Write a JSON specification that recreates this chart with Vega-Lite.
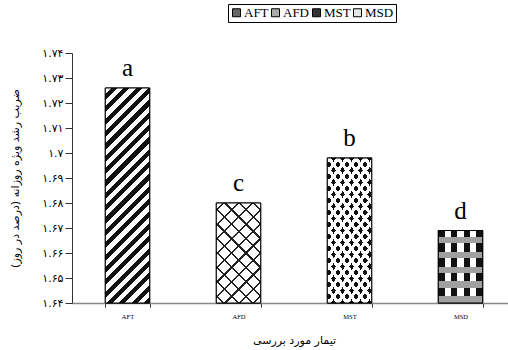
{
  "$schema": "https://vega.github.io/schema/vega-lite/v6.json",
  "width": 436,
  "height": 250,
  "autosize": {"type": "none"},
  "padding": {"left": 72, "top": 53, "right": 0, "bottom": 47},
  "background": "white",
  "config": {"view": {"stroke": null}, "font": "Liberation Serif"},
  "data": {"values": [
    {"t": "AFT", "v": 1.726, "lab": "a"},
    {"t": "AFD", "v": 1.680, "lab": "c"},
    {"t": "MST", "v": 1.698, "lab": "b"},
    {"t": "MSD", "v": 1.669, "lab": "d"}
  ]},
  "encoding": {
    "x": {
      "field": "t", "type": "nominal", "sort": ["AFT", "AFD", "MST", "MSD"],
      "scale": {"range": [0, 444], "paddingInner": 0.6, "paddingOuter": 0.3},
      "title": "تیمار مورد بررسی",
      "axis": {
        "labelFont": "Liberation Serif", "labelFontSize": 6.5, "labelAngle": 0, "labelColor": "black",
        "labelPadding": 6, "tickBand": "extent", "tickSize": 4, "tickColor": "#333",
        "domainColor": "#888", "domainWidth": 1.5, "grid": false,
        "titleFont": "DejaVu Sans", "titleFontSize": 11, "titleFontWeight": "normal", "titleColor": "black",
        "titleY": 37, "titleBaseline": "middle"
      }
    },
    "y": {
      "field": "v", "type": "quantitative",
      "scale": {"domain": [1.64, 1.74], "zero": false, "nice": false, "clamp": true},
      "title": "ضریب رشد ویژه روزانه (درصد در روز)",
      "axis": {
        "values": [1.64, 1.65, 1.66, 1.67, 1.68, 1.69, 1.70, 1.71, 1.72, 1.73, 1.74],
        "labelExpr": "['۱.۶۴','۱.۶۵','۱.۶۶','۱.۶۷','۱.۶۸','۱.۶۹','۱.۷','۱.۷۱','۱.۷۲','۱.۷۳','۱.۷۴'][round((datum.value-1.64)*100)]",
        "labelFont": "DejaVu Sans", "labelFontSize": 11, "labelColor": "black", "labelPadding": 2,
        "tickSize": 7, "tickColor": "#333", "domainColor": "#333", "grid": false,
        "titleFont": "DejaVu Sans", "titleFontSize": 11, "titleFontWeight": "normal", "titleColor": "black",
        "titleX": -57, "titleY": 125, "titleBaseline": "middle", "titleAlign": "center"
      }
    }
  },
  "layer": [
    {
      "mark": {"type": "bar", "stroke": "black", "strokeWidth": 1},
      "encoding": {
        "y2": {"datum": 1.64},
        "fill": {
          "field": "t", "type": "nominal",
          "scale": {"domain": ["AFT", "AFD", "MST", "MSD"], "range": ["#666666", "#aaaaaa", "#333333", "#e6e6e6"]},
          "legend": {
            "orient": "none", "legendX": 156, "legendY": -49, "direction": "horizontal", "columns": 4,
            "title": null, "symbolType": "square", "symbolSize": 64, "symbolStrokeColor": "black",
            "symbolStrokeWidth": 1, "symbolOpacity": 1, "labelFont": "Liberation Serif", "labelFontSize": 13,
            "labelColor": "black", "strokeColor": "black", "padding": 2, "columnPadding": 0, "labelOffset": 1
          }
        }
      }
    },
    {
      "transform": [{"filter": "datum.t === 'AFT'"}],
      "encoding": {"y2": {"datum": 1.64}},
      "mark": {"type": "bar", "fill": {"gradient": "linear", "x1": 0, "y1": 0, "x2": 0.2389, "y2": 1.157, "stops": [
        {"offset": 0, "color": "#fff"}, {"offset": 0.0238, "color": "#fff"}, {"offset": 0.0238, "color": "#111"}, {"offset": 0.0476, "color": "#111"},
        {"offset": 0.0476, "color": "#fff"}, {"offset": 0.0714, "color": "#fff"}, {"offset": 0.0714, "color": "#111"}, {"offset": 0.0952, "color": "#111"},
        {"offset": 0.0952, "color": "#fff"}, {"offset": 0.119, "color": "#fff"}, {"offset": 0.119, "color": "#111"}, {"offset": 0.1429, "color": "#111"},
        {"offset": 0.1429, "color": "#fff"}, {"offset": 0.1667, "color": "#fff"}, {"offset": 0.1667, "color": "#111"}, {"offset": 0.1905, "color": "#111"},
        {"offset": 0.1905, "color": "#fff"}, {"offset": 0.2143, "color": "#fff"}, {"offset": 0.2143, "color": "#111"}, {"offset": 0.2381, "color": "#111"},
        {"offset": 0.2381, "color": "#fff"}, {"offset": 0.2619, "color": "#fff"}, {"offset": 0.2619, "color": "#111"}, {"offset": 0.2857, "color": "#111"},
        {"offset": 0.2857, "color": "#fff"}, {"offset": 0.3095, "color": "#fff"}, {"offset": 0.3095, "color": "#111"}, {"offset": 0.3333, "color": "#111"},
        {"offset": 0.3333, "color": "#fff"}, {"offset": 0.3571, "color": "#fff"}, {"offset": 0.3571, "color": "#111"}, {"offset": 0.381, "color": "#111"},
        {"offset": 0.381, "color": "#fff"}, {"offset": 0.4048, "color": "#fff"}, {"offset": 0.4048, "color": "#111"}, {"offset": 0.4286, "color": "#111"},
        {"offset": 0.4286, "color": "#fff"}, {"offset": 0.4524, "color": "#fff"}, {"offset": 0.4524, "color": "#111"}, {"offset": 0.4762, "color": "#111"},
        {"offset": 0.4762, "color": "#fff"}, {"offset": 0.5, "color": "#fff"}, {"offset": 0.5, "color": "#111"}, {"offset": 0.5238, "color": "#111"},
        {"offset": 0.5238, "color": "#fff"}, {"offset": 0.5476, "color": "#fff"}, {"offset": 0.5476, "color": "#111"}, {"offset": 0.5714, "color": "#111"},
        {"offset": 0.5714, "color": "#fff"}, {"offset": 0.5952, "color": "#fff"}, {"offset": 0.5952, "color": "#111"}, {"offset": 0.619, "color": "#111"},
        {"offset": 0.619, "color": "#fff"}, {"offset": 0.6429, "color": "#fff"}, {"offset": 0.6429, "color": "#111"}, {"offset": 0.6667, "color": "#111"},
        {"offset": 0.6667, "color": "#fff"}, {"offset": 0.6905, "color": "#fff"}, {"offset": 0.6905, "color": "#111"}, {"offset": 0.7143, "color": "#111"},
        {"offset": 0.7143, "color": "#fff"}, {"offset": 0.7381, "color": "#fff"}, {"offset": 0.7381, "color": "#111"}, {"offset": 0.7619, "color": "#111"},
        {"offset": 0.7619, "color": "#fff"}, {"offset": 0.7857, "color": "#fff"}, {"offset": 0.7857, "color": "#111"}, {"offset": 0.8095, "color": "#111"},
        {"offset": 0.8095, "color": "#fff"}, {"offset": 0.8333, "color": "#fff"}, {"offset": 0.8333, "color": "#111"}, {"offset": 0.8571, "color": "#111"},
        {"offset": 0.8571, "color": "#fff"}, {"offset": 0.881, "color": "#fff"}, {"offset": 0.881, "color": "#111"}, {"offset": 0.9048, "color": "#111"},
        {"offset": 0.9048, "color": "#fff"}, {"offset": 0.9286, "color": "#fff"}, {"offset": 0.9286, "color": "#111"}, {"offset": 0.9524, "color": "#111"},
        {"offset": 0.9524, "color": "#fff"}, {"offset": 0.9762, "color": "#fff"}, {"offset": 0.9762, "color": "#111"}, {"offset": 1, "color": "#111"}
      ]}}
    },
    {
      "transform": [{"filter": "datum.t === 'AFD'"}],
      "encoding": {"y2": {"datum": 1.64}},
      "mark": {"type": "bar", "fill": {"gradient": "linear", "x1": 0, "y1": 0, "x2": 0.5356, "y2": 1.2062, "stops": [
        {"offset": 0, "color": "#fff"}, {"offset": 0.045, "color": "#fff"}, {"offset": 0.045, "color": "#222"}, {"offset": 0.06, "color": "#222"},
        {"offset": 0.06, "color": "#fff"}, {"offset": 0.145, "color": "#fff"}, {"offset": 0.145, "color": "#222"}, {"offset": 0.16, "color": "#222"},
        {"offset": 0.16, "color": "#fff"}, {"offset": 0.245, "color": "#fff"}, {"offset": 0.245, "color": "#222"}, {"offset": 0.26, "color": "#222"},
        {"offset": 0.26, "color": "#fff"}, {"offset": 0.345, "color": "#fff"}, {"offset": 0.345, "color": "#222"}, {"offset": 0.36, "color": "#222"},
        {"offset": 0.36, "color": "#fff"}, {"offset": 0.445, "color": "#fff"}, {"offset": 0.445, "color": "#222"}, {"offset": 0.46, "color": "#222"},
        {"offset": 0.46, "color": "#fff"}, {"offset": 0.545, "color": "#fff"}, {"offset": 0.545, "color": "#222"}, {"offset": 0.56, "color": "#222"},
        {"offset": 0.56, "color": "#fff"}, {"offset": 0.645, "color": "#fff"}, {"offset": 0.645, "color": "#222"}, {"offset": 0.66, "color": "#222"},
        {"offset": 0.66, "color": "#fff"}, {"offset": 0.745, "color": "#fff"}, {"offset": 0.745, "color": "#222"}, {"offset": 0.76, "color": "#222"},
        {"offset": 0.76, "color": "#fff"}, {"offset": 0.845, "color": "#fff"}, {"offset": 0.845, "color": "#222"}, {"offset": 0.86, "color": "#222"},
        {"offset": 0.86, "color": "#fff"}, {"offset": 0.945, "color": "#fff"}, {"offset": 0.945, "color": "#222"}, {"offset": 0.96, "color": "#222"},
        {"offset": 0.96, "color": "#fff"}, {"offset": 1, "color": "#fff"}
      ]}}
    },
    {
      "transform": [{"filter": "datum.t === 'AFD'"}],
      "encoding": {"y2": {"datum": 1.64}},
      "mark": {"type": "bar", "fill": {"gradient": "linear", "x1": 0, "y1": 1, "x2": 0.5356, "y2": -0.2062, "stops": [
        {"offset": 0, "color": "rgba(255,255,255,0)"}, {"offset": 0.045, "color": "rgba(255,255,255,0)"}, {"offset": 0.045, "color": "#222"}, {"offset": 0.06, "color": "#222"},
        {"offset": 0.06, "color": "rgba(255,255,255,0)"}, {"offset": 0.145, "color": "rgba(255,255,255,0)"}, {"offset": 0.145, "color": "#222"}, {"offset": 0.16, "color": "#222"},
        {"offset": 0.16, "color": "rgba(255,255,255,0)"}, {"offset": 0.245, "color": "rgba(255,255,255,0)"}, {"offset": 0.245, "color": "#222"}, {"offset": 0.26, "color": "#222"},
        {"offset": 0.26, "color": "rgba(255,255,255,0)"}, {"offset": 0.345, "color": "rgba(255,255,255,0)"}, {"offset": 0.345, "color": "#222"}, {"offset": 0.36, "color": "#222"},
        {"offset": 0.36, "color": "rgba(255,255,255,0)"}, {"offset": 0.445, "color": "rgba(255,255,255,0)"}, {"offset": 0.445, "color": "#222"}, {"offset": 0.46, "color": "#222"},
        {"offset": 0.46, "color": "rgba(255,255,255,0)"}, {"offset": 0.545, "color": "rgba(255,255,255,0)"}, {"offset": 0.545, "color": "#222"}, {"offset": 0.56, "color": "#222"},
        {"offset": 0.56, "color": "rgba(255,255,255,0)"}, {"offset": 0.645, "color": "rgba(255,255,255,0)"}, {"offset": 0.645, "color": "#222"}, {"offset": 0.66, "color": "#222"},
        {"offset": 0.66, "color": "rgba(255,255,255,0)"}, {"offset": 0.745, "color": "rgba(255,255,255,0)"}, {"offset": 0.745, "color": "#222"}, {"offset": 0.76, "color": "#222"},
        {"offset": 0.76, "color": "rgba(255,255,255,0)"}, {"offset": 0.845, "color": "rgba(255,255,255,0)"}, {"offset": 0.845, "color": "#222"}, {"offset": 0.86, "color": "#222"},
        {"offset": 0.86, "color": "rgba(255,255,255,0)"}, {"offset": 0.945, "color": "rgba(255,255,255,0)"}, {"offset": 0.945, "color": "#222"}, {"offset": 0.96, "color": "#222"},
        {"offset": 0.96, "color": "rgba(255,255,255,0)"}, {"offset": 1, "color": "rgba(255,255,255,0)"}
      ]}}
    },
    {
      "transform": [{"filter": "datum.t === 'MST'"}],
      "encoding": {"y2": {"datum": 1.64}},
      "mark": {"type": "bar", "fill": {"gradient": "linear", "x1": 0, "y1": 0, "x2": 0.4928, "y2": 1.2071, "stops": [
        {"offset": 0, "color": "#fff"}, {"offset": 0.0265, "color": "#fff"}, {"offset": 0.0265, "color": "#111"}, {"offset": 0.0588, "color": "#111"},
        {"offset": 0.0588, "color": "#fff"}, {"offset": 0.0853, "color": "#fff"}, {"offset": 0.0853, "color": "#111"}, {"offset": 0.1176, "color": "#111"},
        {"offset": 0.1176, "color": "#fff"}, {"offset": 0.1441, "color": "#fff"}, {"offset": 0.1441, "color": "#111"}, {"offset": 0.1765, "color": "#111"},
        {"offset": 0.1765, "color": "#fff"}, {"offset": 0.203, "color": "#fff"}, {"offset": 0.203, "color": "#111"}, {"offset": 0.2353, "color": "#111"},
        {"offset": 0.2353, "color": "#fff"}, {"offset": 0.2618, "color": "#fff"}, {"offset": 0.2618, "color": "#111"}, {"offset": 0.2941, "color": "#111"},
        {"offset": 0.2941, "color": "#fff"}, {"offset": 0.3206, "color": "#fff"}, {"offset": 0.3206, "color": "#111"}, {"offset": 0.3529, "color": "#111"},
        {"offset": 0.3529, "color": "#fff"}, {"offset": 0.3794, "color": "#fff"}, {"offset": 0.3794, "color": "#111"}, {"offset": 0.4118, "color": "#111"},
        {"offset": 0.4118, "color": "#fff"}, {"offset": 0.4383, "color": "#fff"}, {"offset": 0.4383, "color": "#111"}, {"offset": 0.4706, "color": "#111"},
        {"offset": 0.4706, "color": "#fff"}, {"offset": 0.4971, "color": "#fff"}, {"offset": 0.4971, "color": "#111"}, {"offset": 0.5294, "color": "#111"},
        {"offset": 0.5294, "color": "#fff"}, {"offset": 0.5559, "color": "#fff"}, {"offset": 0.5559, "color": "#111"}, {"offset": 0.5882, "color": "#111"},
        {"offset": 0.5882, "color": "#fff"}, {"offset": 0.6147, "color": "#fff"}, {"offset": 0.6147, "color": "#111"}, {"offset": 0.6471, "color": "#111"},
        {"offset": 0.6471, "color": "#fff"}, {"offset": 0.6736, "color": "#fff"}, {"offset": 0.6736, "color": "#111"}, {"offset": 0.7059, "color": "#111"},
        {"offset": 0.7059, "color": "#fff"}, {"offset": 0.7324, "color": "#fff"}, {"offset": 0.7324, "color": "#111"}, {"offset": 0.7647, "color": "#111"},
        {"offset": 0.7647, "color": "#fff"}, {"offset": 0.7912, "color": "#fff"}, {"offset": 0.7912, "color": "#111"}, {"offset": 0.8235, "color": "#111"},
        {"offset": 0.8235, "color": "#fff"}, {"offset": 0.85, "color": "#fff"}, {"offset": 0.85, "color": "#111"}, {"offset": 0.8824, "color": "#111"},
        {"offset": 0.8824, "color": "#fff"}, {"offset": 0.9089, "color": "#fff"}, {"offset": 0.9089, "color": "#111"}, {"offset": 0.9412, "color": "#111"},
        {"offset": 0.9412, "color": "#fff"}, {"offset": 0.9677, "color": "#fff"}, {"offset": 0.9677, "color": "#111"}, {"offset": 1, "color": "#111"}
      ]}}
    },
    {
      "transform": [{"filter": "datum.t === 'MST'"}],
      "encoding": {"y2": {"datum": 1.64}},
      "mark": {"type": "bar", "fill": {"gradient": "linear", "x1": 0, "y1": 1, "x2": 0.4928, "y2": -0.2071, "stops": [
        {"offset": 0, "color": "#fff"}, {"offset": 0.0265, "color": "#fff"}, {"offset": 0.0265, "color": "rgba(255,255,255,0)"}, {"offset": 0.0588, "color": "rgba(255,255,255,0)"},
        {"offset": 0.0588, "color": "#fff"}, {"offset": 0.0853, "color": "#fff"}, {"offset": 0.0853, "color": "rgba(255,255,255,0)"}, {"offset": 0.1176, "color": "rgba(255,255,255,0)"},
        {"offset": 0.1176, "color": "#fff"}, {"offset": 0.1441, "color": "#fff"}, {"offset": 0.1441, "color": "rgba(255,255,255,0)"}, {"offset": 0.1765, "color": "rgba(255,255,255,0)"},
        {"offset": 0.1765, "color": "#fff"}, {"offset": 0.203, "color": "#fff"}, {"offset": 0.203, "color": "rgba(255,255,255,0)"}, {"offset": 0.2353, "color": "rgba(255,255,255,0)"},
        {"offset": 0.2353, "color": "#fff"}, {"offset": 0.2618, "color": "#fff"}, {"offset": 0.2618, "color": "rgba(255,255,255,0)"}, {"offset": 0.2941, "color": "rgba(255,255,255,0)"},
        {"offset": 0.2941, "color": "#fff"}, {"offset": 0.3206, "color": "#fff"}, {"offset": 0.3206, "color": "rgba(255,255,255,0)"}, {"offset": 0.3529, "color": "rgba(255,255,255,0)"},
        {"offset": 0.3529, "color": "#fff"}, {"offset": 0.3794, "color": "#fff"}, {"offset": 0.3794, "color": "rgba(255,255,255,0)"}, {"offset": 0.4118, "color": "rgba(255,255,255,0)"},
        {"offset": 0.4118, "color": "#fff"}, {"offset": 0.4383, "color": "#fff"}, {"offset": 0.4383, "color": "rgba(255,255,255,0)"}, {"offset": 0.4706, "color": "rgba(255,255,255,0)"},
        {"offset": 0.4706, "color": "#fff"}, {"offset": 0.4971, "color": "#fff"}, {"offset": 0.4971, "color": "rgba(255,255,255,0)"}, {"offset": 0.5294, "color": "rgba(255,255,255,0)"},
        {"offset": 0.5294, "color": "#fff"}, {"offset": 0.5559, "color": "#fff"}, {"offset": 0.5559, "color": "rgba(255,255,255,0)"}, {"offset": 0.5882, "color": "rgba(255,255,255,0)"},
        {"offset": 0.5882, "color": "#fff"}, {"offset": 0.6147, "color": "#fff"}, {"offset": 0.6147, "color": "rgba(255,255,255,0)"}, {"offset": 0.6471, "color": "rgba(255,255,255,0)"},
        {"offset": 0.6471, "color": "#fff"}, {"offset": 0.6736, "color": "#fff"}, {"offset": 0.6736, "color": "rgba(255,255,255,0)"}, {"offset": 0.7059, "color": "rgba(255,255,255,0)"},
        {"offset": 0.7059, "color": "#fff"}, {"offset": 0.7324, "color": "#fff"}, {"offset": 0.7324, "color": "rgba(255,255,255,0)"}, {"offset": 0.7647, "color": "rgba(255,255,255,0)"},
        {"offset": 0.7647, "color": "#fff"}, {"offset": 0.7912, "color": "#fff"}, {"offset": 0.7912, "color": "rgba(255,255,255,0)"}, {"offset": 0.8235, "color": "rgba(255,255,255,0)"},
        {"offset": 0.8235, "color": "#fff"}, {"offset": 0.85, "color": "#fff"}, {"offset": 0.85, "color": "rgba(255,255,255,0)"}, {"offset": 0.8824, "color": "rgba(255,255,255,0)"},
        {"offset": 0.8824, "color": "#fff"}, {"offset": 0.9089, "color": "#fff"}, {"offset": 0.9089, "color": "rgba(255,255,255,0)"}, {"offset": 0.9412, "color": "rgba(255,255,255,0)"},
        {"offset": 0.9412, "color": "#fff"}, {"offset": 0.9677, "color": "#fff"}, {"offset": 0.9677, "color": "rgba(255,255,255,0)"}, {"offset": 1, "color": "rgba(255,255,255,0)"}
      ]}}
    },
    {
      "transform": [{"filter": "datum.t === 'MSD'"}],
      "encoding": {"y2": {"datum": 1.64}},
      "mark": {"type": "bar", "fill": {"gradient": "linear", "x1": 0, "y1": 0, "x2": 1, "y2": 0, "stops": [
        {"offset": 0, "color": "#111"}, {"offset": 0.1429, "color": "#111"}, {"offset": 0.1429, "color": "#fff"}, {"offset": 0.2857, "color": "#fff"},
        {"offset": 0.2857, "color": "#111"}, {"offset": 0.4286, "color": "#111"}, {"offset": 0.4286, "color": "#fff"}, {"offset": 0.5714, "color": "#fff"},
        {"offset": 0.5714, "color": "#111"}, {"offset": 0.7143, "color": "#111"}, {"offset": 0.7143, "color": "#fff"}, {"offset": 0.8571, "color": "#fff"},
        {"offset": 0.8571, "color": "#111"}, {"offset": 1, "color": "#111"}
      ]}}
    },
    {
      "transform": [{"filter": "datum.t === 'MSD'"}],
      "encoding": {"y2": {"datum": 1.64}},
      "mark": {"type": "bar", "fill": {"gradient": "linear", "x1": 0, "y1": 0, "x2": 0, "y2": 1, "stops": [
        {"offset": 0, "color": "rgba(255,255,255,0)"}, {"offset": 0.0828, "color": "rgba(255,255,255,0)"}, {"offset": 0.0828, "color": "#a0a0a0"}, {"offset": 0.1793, "color": "#a0a0a0"},
        {"offset": 0.1793, "color": "rgba(255,255,255,0)"}, {"offset": 0.2897, "color": "rgba(255,255,255,0)"}, {"offset": 0.2897, "color": "#a0a0a0"}, {"offset": 0.3862, "color": "#a0a0a0"},
        {"offset": 0.3862, "color": "rgba(255,255,255,0)"}, {"offset": 0.4966, "color": "rgba(255,255,255,0)"}, {"offset": 0.4966, "color": "#a0a0a0"}, {"offset": 0.5931, "color": "#a0a0a0"},
        {"offset": 0.5931, "color": "rgba(255,255,255,0)"}, {"offset": 0.7034, "color": "rgba(255,255,255,0)"}, {"offset": 0.7034, "color": "#a0a0a0"}, {"offset": 0.8, "color": "#a0a0a0"},
        {"offset": 0.8, "color": "rgba(255,255,255,0)"}, {"offset": 0.9103, "color": "rgba(255,255,255,0)"}, {"offset": 0.9103, "color": "#a0a0a0"}, {"offset": 1, "color": "#a0a0a0"}
      ]}}
    },
    {
      "encoding": {"y2": {"datum": 1.64}},
      "mark": {"type": "bar", "fill": "transparent", "stroke": "black", "strokeWidth": 1}
    },
    {
      "mark": {"type": "text", "dy": -12, "baseline": "alphabetic", "font": "Liberation Serif", "fontSize": 25, "color": "black"},
      "encoding": {"text": {"field": "lab"}}
    }
  ]
}
